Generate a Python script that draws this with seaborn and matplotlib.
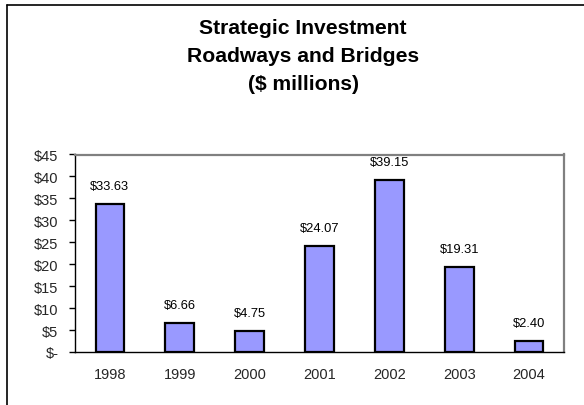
import matplotlib
matplotlib.use("Agg")
import matplotlib.pyplot as plt
import seaborn as sns
import pandas as pd
from matplotlib.lines import Line2D

years = ["1998", "1999", "2000", "2001", "2002", "2003", "2004"]
investment = [33.63, 6.66, 4.75, 24.07, 39.15, 19.31, 2.40]
y_ticks = [0, 5, 10, 15, 20, 25, 30, 35, 40, 45]
y_tick_labels = ["$-", "$5", "$10", "$15", "$20", "$25", "$30", "$35", "$40", "$45"]
title_lines = ["Strategic Investment", "Roadways and Bridges", "($ millions)"]

df = pd.DataFrame({"year": years, "value": investment})

sns.set_theme(style="white")
plt.rcParams["font.family"] = ["Liberation Sans", "DejaVu Sans"]

fig = plt.figure(figsize=(5.84, 4.06), dpi=100)
fig.patch.set_facecolor("white")

# outer chart frame (left and top edges visible)
fig.add_artist(Line2D([7 / 584, 7 / 584], [0, 1 - 6 / 406], transform=fig.transFigure,
                      color="black", lw=1.2))
fig.add_artist(Line2D([7 / 584, 1.0], [1 - 6 / 406, 1 - 6 / 406], transform=fig.transFigure,
                      color="black", lw=1.2))

ax = fig.add_axes([75 / 584, 1 - 353 / 406, (564 - 75) / 584, (353 - 155.5) / 406])
sns.barplot(data=df, x="year", y="value", color="#9999FF", width=0.41,
            edgecolor="black", linewidth=1.6, saturation=1, ax=ax)

ax.set_xlim(-0.5, len(years) - 0.5)
ax.set_ylim(0, 45)
ax.set_yticks(y_ticks)
ax.set_yticklabels(y_tick_labels, fontsize=10.5)
ax.set_xticks(range(len(years)))
ax.set_xticklabels(years, fontsize=10.5)
ax.set_xlabel("")
ax.set_ylabel("")

# tick marks on category boundaries only
ax.set_xticks([i - 0.5 for i in range(len(years) + 1)], minor=True)
ax.tick_params(axis="x", which="major", length=0, pad=11)
ax.tick_params(axis="x", which="minor", length=4, width=1, color="black", direction="out")
ax.tick_params(axis="y", which="major", length=4, width=1, color="black", direction="out", pad=8,
               left=True)

for side in ("top", "right"):
    ax.spines[side].set_visible(True)
    ax.spines[side].set_color("#808080")
    ax.spines[side].set_linewidth(1.6)
for side in ("left", "bottom"):
    ax.spines[side].set_visible(True)
    ax.spines[side].set_color("black")
    ax.spines[side].set_linewidth(1.0)

for patch, val in zip(ax.patches, investment):
    ax.annotate(f"${val:.2f}", (patch.get_x() + patch.get_width() / 2, val),
                xytext=(0, 13), textcoords="offset points",
                ha="center", va="center", fontsize=9.3, color="black")

for i, line in enumerate(title_lines):
    fig.text(303 / 584, 1 - (28.5 + 28 * i) / 406, line, ha="center", va="center",
             fontsize=15.2, fontweight="bold", color="black")

fig.savefig("out.png", dpi=100, facecolor="white")
